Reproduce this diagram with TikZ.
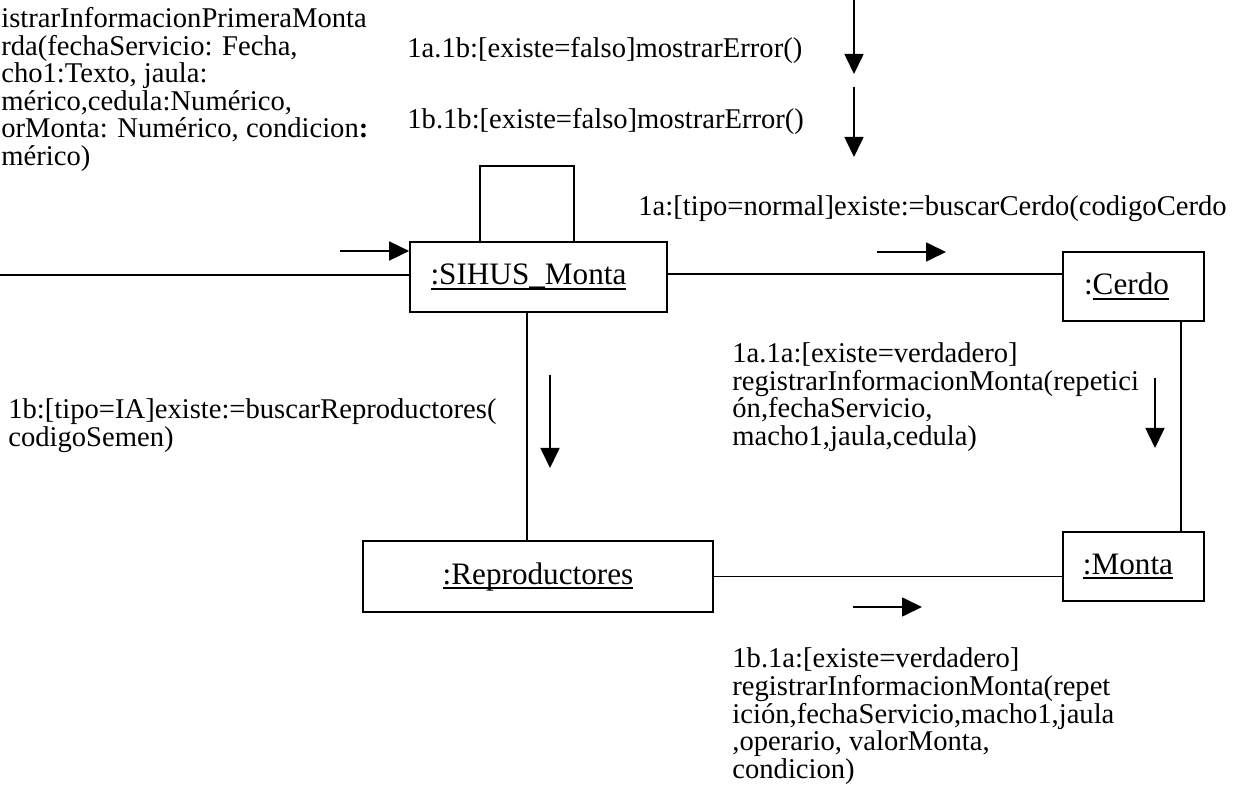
\documentclass[tikz,border=0pt]{standalone}
\usepackage{fontspec}
\setmainfont{Liberation Serif}
\usetikzlibrary{arrows.meta}
\newcommand{\ulx}[1]{\leavevmode\setbox0=\hbox{#1}\rlap{\vrule height -1.5pt depth 2.4pt width \wd0}\box0}
\newcommand{\mlines}[1]{\vbox{\baselineskip=13.75pt\lineskiplimit=-30pt\lineskip=0pt\halign{##\hfil\cr#1\crcr}}}
\begin{document}
\begin{tikzpicture}[x=0.5pt,y=-0.5pt,
  every node/.style={font=\fontsize{14.3}{13.75}\selectfont, inner sep=0pt},
  obj/.style={draw, line width=0.85pt, inner sep=0pt, font=\fontsize{15.6}{16}\selectfont},
  conn/.style={line width=0.85pt},
  msg/.style={line width=0.85pt, -{Triangle[length=10pt,width=9.5pt]}},
  lbl/.style={anchor=base west}]
\useasboundingbox (0,0) rectangle (1243,801);

% objects
\node[obj, minimum width=128.5pt, minimum height=35pt] (sihus) at (538.5,277) {\raisebox{2.5pt}{\ulx{:SIHUS\_Monta}}\kern10pt};
\node[obj, minimum width=70.5pt, minimum height=34.5pt] (cerdo) at (1133.5,286.5) {:\ulx{Cerdo}\kern7pt};
\node[obj, minimum width=70.5pt, minimum height=34.5pt] (monta) at (1133.5,566.5) {\ulx{:Monta}\kern5.5pt};
\node[obj, minimum width=175pt, minimum height=35.5pt] (repro) at (538,576.5) {\ulx{:Reproductores}};

% texts
\node[lbl] (t0) at (1,165.5) {\mlines{istrarInformacionPrimeraMonta\cr rda(fechaServicio: Fecha,\cr cho1:Texto, jaula:\cr mérico,cedula:Numérico,\cr orMonta: Numérico, condicion\textbf{:}\cr mérico)}};
\node[lbl] (m1) at (407,58) {1a.1b:[existe=falso]mostrarError()};
\node[lbl] (m2) at (407,129) {1b.1b:[existe=falso]mostrarError()};
\node[lbl] (m3) at (638,216) {1a:[tipo=normal]existe:=buscarCerdo(codigoCerdo};
\node[lbl] (m4) at (8,446.5) {\mlines{1b:[tipo=IA]existe:=buscarReproductores(\cr codigoSemen)}};
\node[lbl] (m5) at (732,445.5) {\mlines{1a.1a:[existe=verdadero]\cr registrarInformacionMonta(repetici\cr ón,fechaServicio,\cr macho1,jaula,cedula)}};
\node[lbl] (m6) at (732,778) {\mlines{1b.1a:[existe=verdadero]\cr registrarInformacionMonta(repet\cr ición,fechaServicio,macho1,jaula\cr ,operario, valorMonta,\cr condicion)}};

% links
\coordinate (inL) at (0,275);
\draw[conn] (inL) -- (inL -| sihus.west);
\draw[conn] ([xshift=-29.25pt]sihus.north) -- ++(0,-75) -| ([xshift=17.75pt]sihus.north);
\draw[conn] ([yshift=1.5pt]sihus.east) -- ([yshift=1.5pt]sihus.east -| cerdo.west);
\draw[conn] ([xshift=23.75pt]cerdo.south) -- ([xshift=23.75pt]monta.north);
\draw[conn] ([xshift=-5.75pt]sihus.south) -- ([xshift=-5.75pt]sihus.south |- repro.north);
\draw[conn] (repro.east) -- (repro.east -| monta.west);

% message arrows
\coordinate (inA) at (340,251);
\draw[msg] (inA) -- (inA -| sihus.west);
\draw[msg] (854,0) -- (854,74);
\draw[msg] (854,87) -- (854,157);
\draw[msg] (877,252) -- (946,252);
\draw[msg] (550,375) -- (550,468);
\draw[msg] (1155,378) -- (1155,448);
\draw[msg] (853,607) -- (922,607);
\end{tikzpicture}
\end{document}
